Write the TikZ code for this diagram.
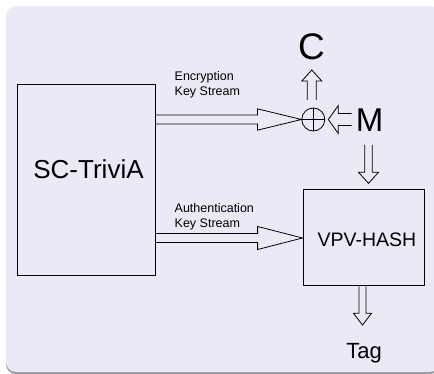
\documentclass[tikz,border=0pt]{standalone}
\usepackage{fontspec}
\setmainfont{Liberation Sans}
\usetikzlibrary{calc}
\definecolor{bgcol}{RGB}{234,234,246}
\definecolor{shadowcol}{RGB}{150,150,155}
\tikzset{
  blk/.style={draw=black, line width=0.8pt, line join=miter},
  boxnode/.style={draw=black, line width=0.8pt, inner sep=0pt},
  lbl/.style={inner sep=0pt, align=left, font=\fontsize{12.5}{14.5}\selectfont},
}
% horizontal block arrow: #1 start, #2 tip, #3 half shaft, #4 half head, #5 signed head length
\newcommand\harrow[5]{%
  \draw[blk] let \p1=(#1), \p2=(#2) in
    (\x1,\y2+#3) -- (\x2-#5,\y2+#3) -- (\x2-#5,\y2+#4) -- (\x2,\y2)
    -- (\x2-#5,\y2-#4) -- (\x2-#5,\y2-#3) -- (\x1,\y2-#3);}
% vertical block arrow: #1 start, #2 tip, #3 half shaft, #4 half head, #5 signed head length (canvas)
\newcommand\varrow[5]{%
  \draw[blk] let \p1=(#1), \p2=(#2) in
    (\x2+#3,\y1) -- (\x2+#3,\y2+#5) -- (\x2+#4,\y2+#5) -- (\x2,\y2)
    -- (\x2-#4,\y2+#5) -- (\x2-#3,\y2+#5) -- (\x2-#3,\y1);}
\begin{document}
\begin{tikzpicture}[x=1pt,y=-1pt]
\useasboundingbox (0,0) rectangle (434,374);
% background panel with shadow
\fill[shadowcol, rounded corners=10pt] (6,8) rectangle (440,374);
\fill[bgcol, rounded corners=10pt] (6,6) rectangle (440,372);

% boxes
\node[boxnode, minimum width=138pt, minimum height=191pt] (sc) at (86,179.5) {};
\node[inner sep=0pt, font=\fontsize{26}{30}\selectfont] (sctext) at (88.5,169.5) {SC-TriviA};
\node[boxnode, minimum width=121pt, minimum height=96pt] (hash) at (363.5,237.5) {};
\node[inner sep=0pt, font=\fontsize{19.5}{23}\selectfont] (hashtext) at (367,240) {VPV-HASH};

% xor
\node[draw=black, line width=0.8pt, circle, minimum size=23pt, inner sep=0pt] (xor) at (313.3,119.5) {};
\draw[line width=0.8pt] (xor.north) -- (xor.south) (xor.west) -- (xor.east);

% big labels
\node[inner sep=0pt, font=\fontsize{37}{40}\selectfont] (C) at (311.5,46.5) {C};
\node[inner sep=0pt, font=\fontsize{33}{36}\selectfont] (M) at (369.5,120) {M};
\node[inner sep=0pt, font=\fontsize{22}{26}\selectfont, anchor=base] (Tag) at (364,358) {Tag};

% small labels
\node[lbl, anchor=north west] (enc) at (174.5,71.5) {Encryption\\Key Stream};
\node[lbl, anchor=north west] (auth) at (174.5,203.5) {Authentication\\Key Stream};

% anchor coordinates
\coordinate (encS) at (sc.east |- xor.west);
\coordinate (encT) at (xor.west);
\coordinate (authS) at (sc.east |- 0,238);
\coordinate (authT) at (hash.west |- 0,238);
\coordinate (mS) at (351.7,119.5);
\coordinate (mT) at (328.3,119.5);
\coordinate (cS) at (311.8,100);
\coordinate (cT) at (311.8,70);
\coordinate (dS) at (368.5,145);
\coordinate (dT) at (368.5,183.3);
\coordinate (tS) at (362.5,286.5);
\coordinate (tT) at (362.5,325);

% arrows
\harrow{encS}{encT}{4.5pt}{10.7pt}{44pt}
\harrow{authS}{authT}{4.5pt}{11.5pt}{45pt}
\harrow{mS}{mT}{6pt}{14pt}{-10pt}
\varrow{cS}{cT}{4.5pt}{10pt}{-11pt}
\varrow{dS}{dT}{3.7pt}{10pt}{11pt}
\varrow{tS}{tT}{3.5pt}{9pt}{11.7pt}
\end{tikzpicture}
\end{document}
